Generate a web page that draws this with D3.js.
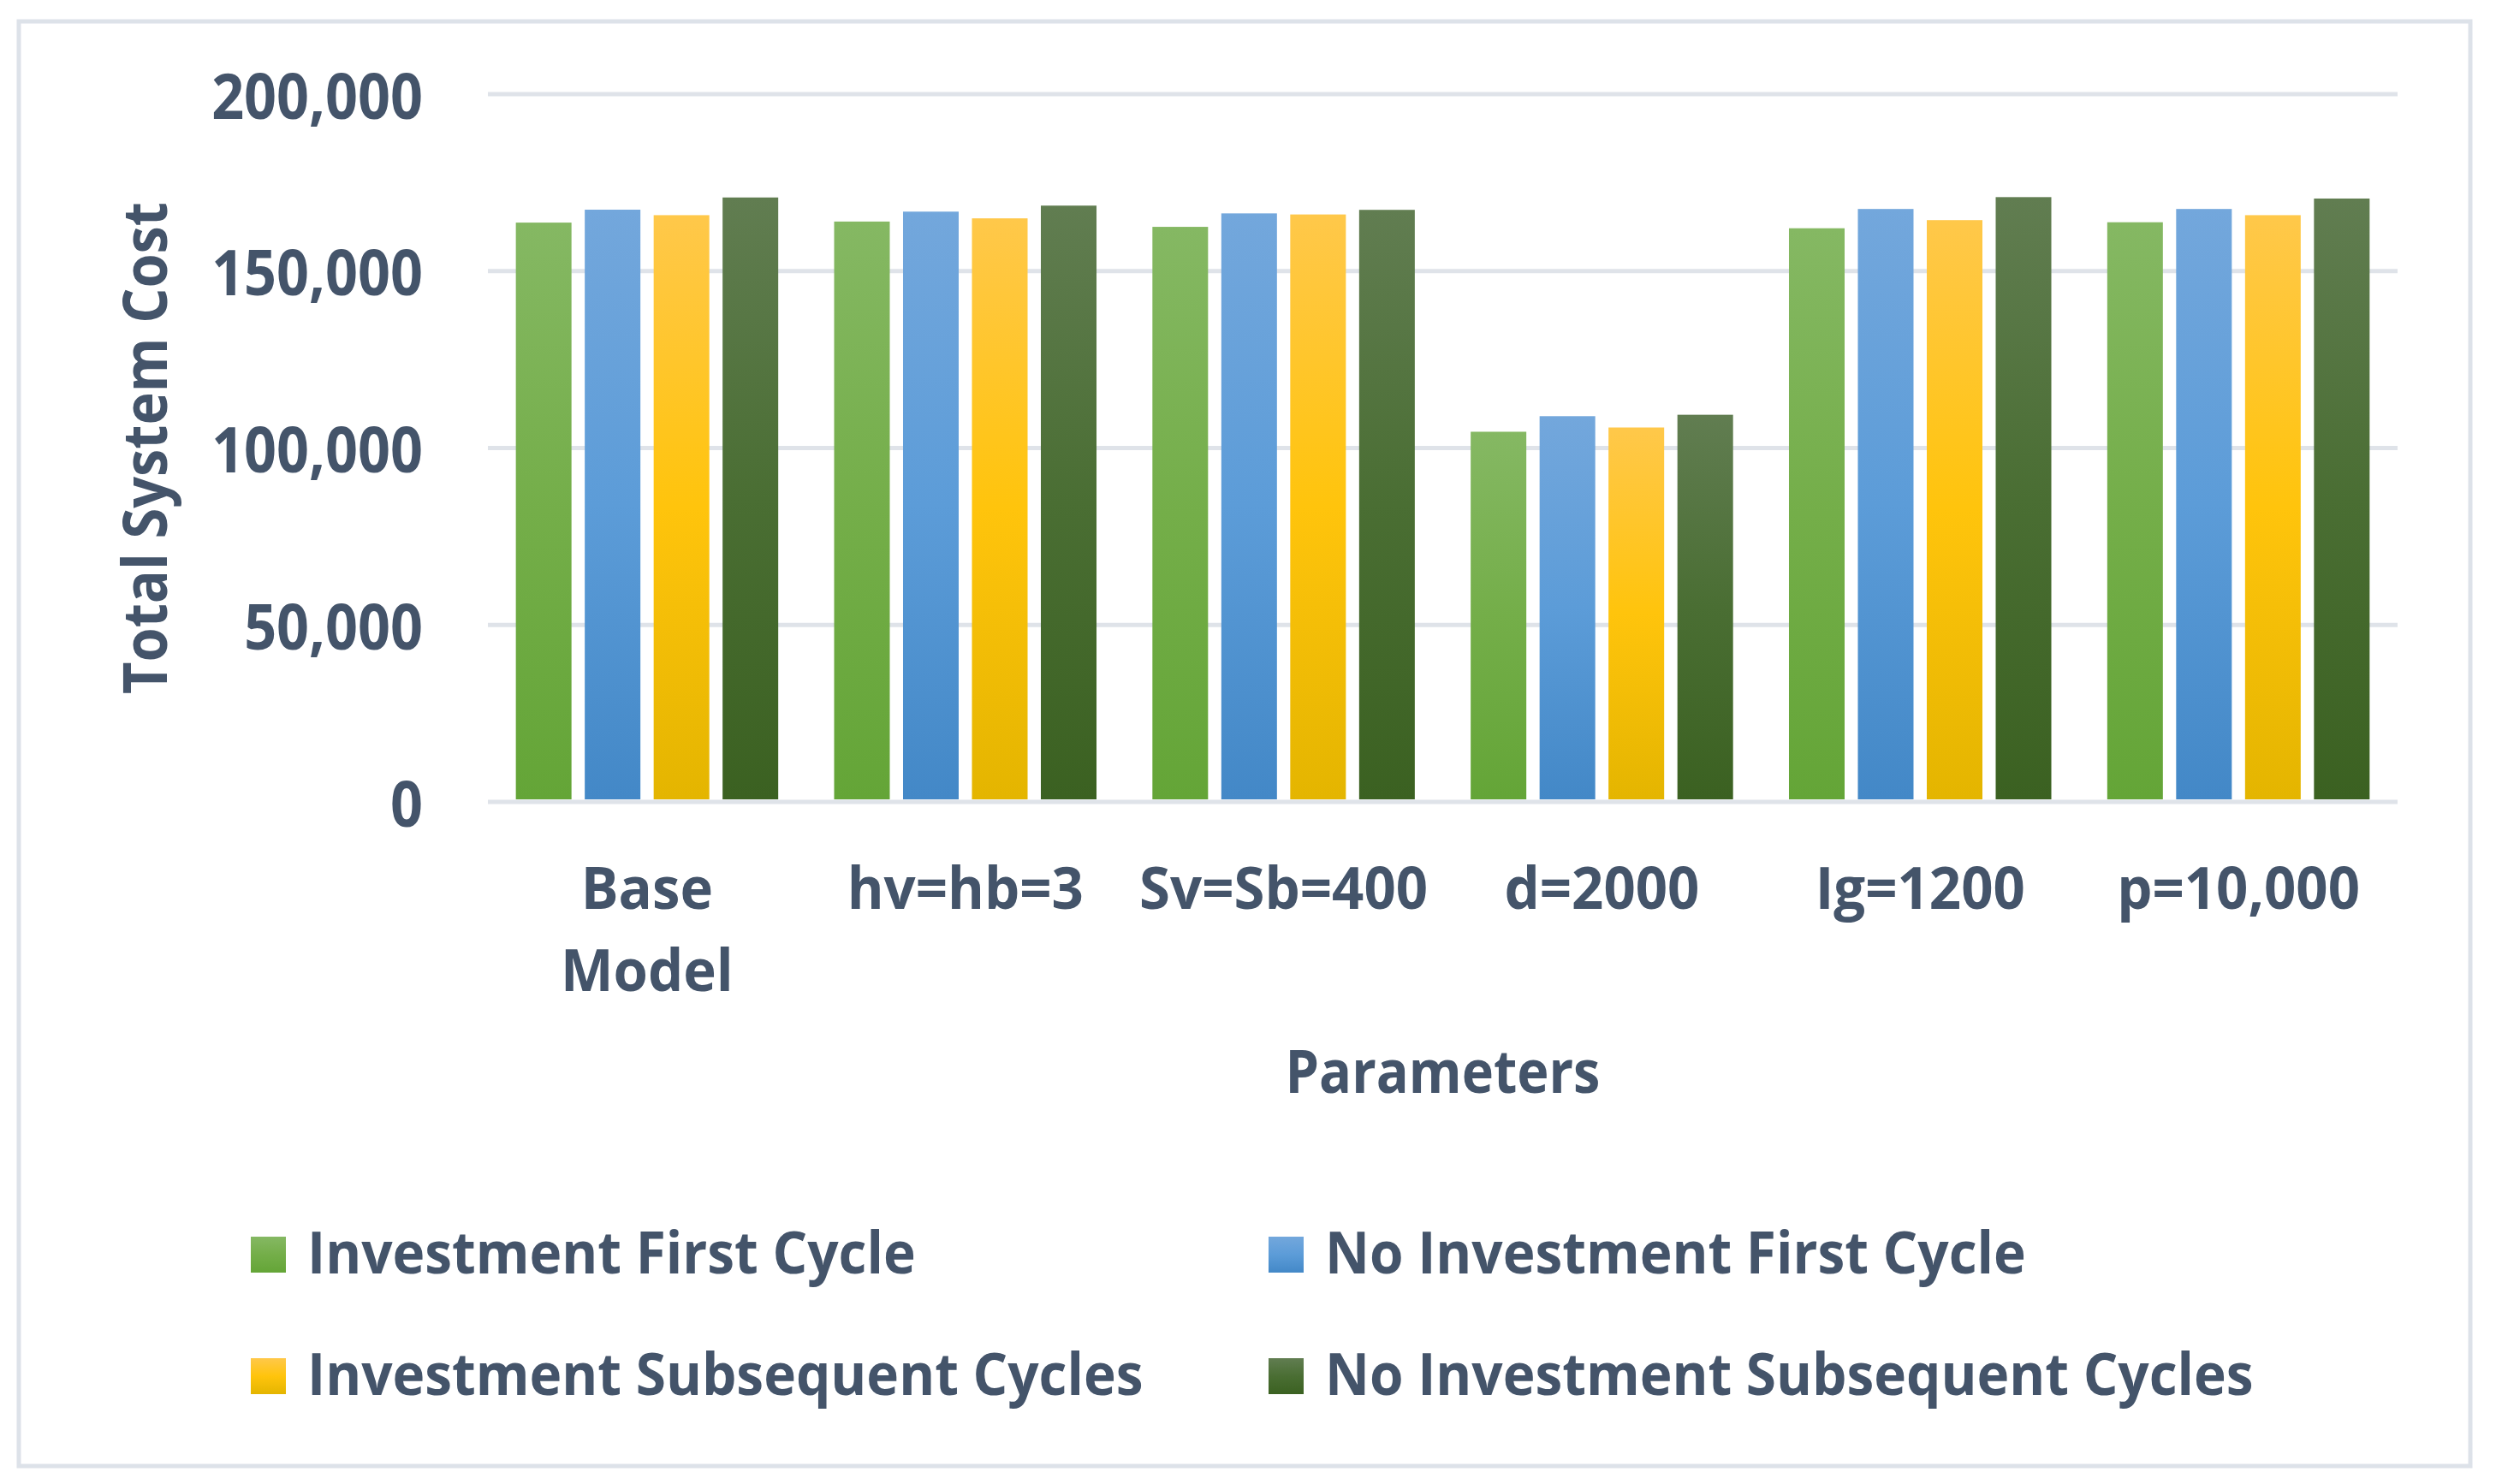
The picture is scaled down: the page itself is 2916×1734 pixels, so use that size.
<!DOCTYPE html>
<html>
<head>
<meta charset="utf-8">
<script src="https://cdn.jsdelivr.net/npm/d3@7"></script>
<style>
  html, body { margin: 0; padding: 0; background: #fff; }
  svg text { font-family: "Open Sans", "Noto Sans", sans-serif; font-weight: 700; fill: #44546A; }
</style>
</head>
<body>
<div class="chart"></div>
<script>
// data
const categories = ["Base Model", "hv=hb=3", "Sv=Sb=400", "d=2000", "Ig=1200", "p=10,000"];
const seriesNames = ["Investment First Cycle", "No Investment First Cycle",
                     "Investment Subsequent Cycles", "No Investment Subsequent Cycles"];
const invFirst   = [163700, 164000, 162500, 104600, 162100, 163800];
const noInvFirst = [167350, 166800, 166300, 109000, 167550, 167550];
const invSub     = [165800, 164900, 166000, 105800, 164400, 165800];
const noInvSub   = [170800, 168500, 167300, 109400, 170900, 170500];
const yTicks = [0, 50000, 100000, 150000, 200000];

const seriesValues = [invFirst, noInvFirst, invSub, noInvSub];

// gradient stops per series: top, middle, bottom
const gradColors = [
  ["#85B863", "#74AE49", "#64A537"],
  ["#73A7DC", "#5C9CD8", "#4388C7"],
  ["#FFC84A", "#FFC40C", "#E4B500"],
  ["#617D51", "#4A6E33", "#3B6121"]
];

const W = 2916, H = 1734;
const plotL = 570, plotR = 2801, plotT = 110, plotB = 937;

// the original font is narrower than Open Sans, squeeze text a bit
function squeeze(sel, k) {
  sel.each(function() {
    const len = this.getComputedTextLength();
    d3.select(this).attr('textLength', len * k).attr('lengthAdjust', 'spacingAndGlyphs');
  });
}

const svg = d3.select('.chart').append('svg')
  .attr('width', W).attr('height', H);

// gradients
const defs = svg.append('defs');
gradColors.forEach((c, i) => {
  const g = defs.append('linearGradient')
    .attr('id', 'grad' + i)
    .attr('x1', 0).attr('y1', 0).attr('x2', 0).attr('y2', 1);
  g.append('stop').attr('offset', '0%').attr('stop-color', c[0]);
  g.append('stop').attr('offset', '50%').attr('stop-color', c[1]);
  g.append('stop').attr('offset', '100%').attr('stop-color', c[2]);
});

// outer frame
svg.append('rect')
  .attr('x', 22).attr('y', 25)
  .attr('width', 2886 - 22).attr('height', 1713 - 25)
  .attr('fill', 'none').attr('stroke', '#DDE2E9').attr('stroke-width', 5);

// scales
const x0 = d3.scaleBand().domain(categories).range([plotL, plotR]).padding(0);
const x1 = d3.scaleBand().domain(d3.range(seriesNames.length))
  .range([0, x0.bandwidth()]).paddingInner(0.1925).paddingOuter(0.4056);
const y = d3.scaleLinear().domain([0, 200000]).range([plotB, plotT]);

// grid lines
svg.append('g').selectAll('line')
  .data(yTicks)
  .enter().append('line')
  .attr('x1', plotL).attr('x2', plotR)
  .attr('y1', d => y(d)).attr('y2', d => y(d))
  .attr('stroke', '#DFE3E9').attr('stroke-width', 5);

// y tick labels
const yl = svg.append('g').selectAll('text')
  .data(yTicks)
  .enter().append('text')
  .attr('x', 494).attr('y', d => y(d))
  .attr('text-anchor', 'end')
  .attr('dominant-baseline', 'central')
  .style('font-size', '73px')
  .text(d => d3.format(',')(d));
squeeze(yl, 0.91);

// bars
const groups = svg.append('g').selectAll('g')
  .data(categories)
  .enter().append('g')
  .attr('transform', d => `translate(${x0(d)},0)`);

groups.selectAll('rect')
  .data((d, ci) => seriesValues.map((vals, si) => ({si: si, v: vals[ci]})))
  .enter().append('rect')
  .attr('x', d => x1(d.si))
  .attr('width', x1.bandwidth())
  .attr('y', d => y(d.v))
  .attr('height', d => y(0) - y(d.v) - 3)
  .attr('fill', d => `url(#grad${d.si})`);

// x labels
const xl = svg.append('g').selectAll('text')
  .data(categories)
  .enter().append('text')
  .attr('x', d => x0(d) + x0.bandwidth() / 2)
  .attr('y', 1062)
  .attr('text-anchor', 'middle')
  .style('font-size', '68px');
xl.each(function(d) {
  const t = d3.select(this);
  const lines = d === "Base Model" ? ["Base", "Model"] : [d];
  lines.forEach((ln, i) => {
    t.append('tspan').attr('x', t.attr('x')).attr('dy', i ? 96 : 0).text(ln);
  });
});
squeeze(xl.selectAll('tspan'), 0.96);

// axis titles
const xt = svg.append('text')
  .attr('x', (plotL + plotR) / 2).attr('y', 1277)
  .attr('text-anchor', 'middle')
  .style('font-size', '70px')
  .text('Parameters');
squeeze(xt, 0.9);

const yt = svg.append('text')
  .attr('transform', `translate(195, ${(plotT + plotB) / 2}) rotate(-90)`)
  .attr('text-anchor', 'middle')
  .style('font-size', '72px')
  .text('Total System Cost');
squeeze(yt, 0.9);

// legend
const legPos = [[293, 1445], [1482, 1445], [293, 1587], [1482, 1587]];
const leg = svg.append('g').selectAll('g')
  .data(seriesNames)
  .enter().append('g')
  .attr('transform', (d, i) => `translate(${legPos[i][0]},${legPos[i][1]})`);
leg.append('rect')
  .attr('width', 41).attr('height', 42)
  .attr('fill', (d, i) => `url(#grad${i})`);
const lt = leg.append('text')
  .attr('x', 66).attr('y', 43)
  .style('font-size', '68px')
  .text(d => d);
squeeze(lt, 0.94);
</script>
</body>
</html>
